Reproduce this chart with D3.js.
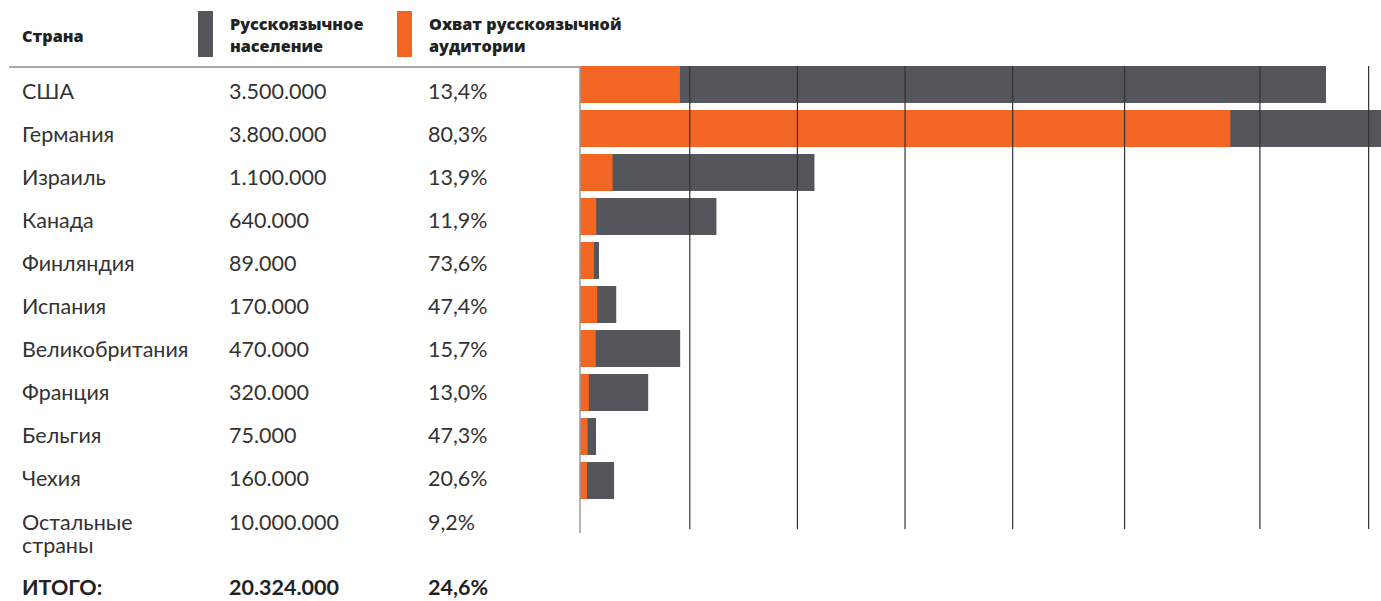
<!DOCTYPE html>
<html>
<head>
<meta charset="utf-8">
<script src="https://cdn.jsdelivr.net/npm/d3@7"></script>
<style>
  body { margin: 0; background: #fff; }
  .js-vis { width: 1381px; height: 601px; }
  text { font-family: Lato, "Noto Sans", sans-serif; }
  .header text { font-family: "Open Sans", Lato, sans-serif; }
</style>
</head>
<body>
<div class="js-vis"></div>
<script>
// Data
const countries = ["США", "Германия", "Израиль", "Канада", "Финляндия", "Испания",
  "Великобритания", "Франция", "Бельгия", "Чехия", "Остальные страны"]
const population = [3500000, 3800000, 1100000, 640000, 89000, 170000,
  470000, 320000, 75000, 160000, 10000000]
const reach = [13.4, 80.3, 13.9, 11.9, 73.6, 47.4, 15.7, 13.0, 47.3, 20.6, 9.2]
const totalLabel = "ИТОГО:"
const totalPopulation = 20324000
const totalReach = 24.6
// vertical grid lines, in people
const gridValues = [515000, 1020000, 1525000, 2030000, 2555000, 3190000, 3700000]
const headers = [["Страна"], ["Русскоязычное", "население"], ["Охват русскоязычной", "аудитории"]]

const grey = "#55565b", orange = "#f26522"

const ru = d3.formatLocale({ decimal: ",", thousands: ".", grouping: [3], currency: ["", ""] }),
    fmtPop = ru.format(",d"),
    fmtPct = d => ru.format(".1f")(d) + "%"

const el = d3.select(".js-vis"),
    width = parseFloat(el.style("width")),
    height = parseFloat(el.style("height"))

const svg = el.append("svg")
  .attr("width", width)
  .attr("height", height)

// bars only for the named countries (not "Остальные страны")
const rows = countries.slice(0, 10).map((c, i) => ({ c, pop: population[i], pct: reach[i] }))

const x = d3.scaleLinear()
  .domain([0, 3500000])
  .range([580, 1326])

const y = d3.scaleBand()
  .domain(rows.map(d => d.c))
  .range([66, 499])
  .paddingInner(0.16)

// text row baselines
const ty = d3.scaleLinear().domain([0, 1]).range([98.5, 141.6])

const colX = [22, 229, 428]

// header
const head = svg.append("g").attr("class", "header")
  .attr("font-size", 16.2).attr("font-weight", 800).attr("fill", "#222")
head.append("text")
  .attr("x", colX[0]).attr("y", 42)
  .text(headers[0][0])

const swatches = [grey, orange]
headers.slice(1).forEach((lines, i) => {
  head.append("rect")
    .attr("x", colX[i + 1] - 31).attr("y", 11)
    .attr("width", 15).attr("height", 46)
    .attr("fill", swatches[i])
  head.selectAll(null)
    .data(lines)
  .enter().append("text")
    .attr("x", colX[i + 1] + 1)
    .attr("y", (d, j) => 29.5 + j * 22)
    .text(d => d)
})

svg.append("line")
  .attr("x1", 9).attr("x2", x(0))
  .attr("y1", 67).attr("y2", 67)
  .attr("stroke", "#8e8e8e").attr("stroke-width", 1.5)

// table text
const table = svg.append("g").attr("class", "table")
  .attr("font-size", 21.5).attr("fill", "#333")

countries.forEach((c, i) => {
  const words = c === "Остальные страны" ? c.split(" ") : [c]
  table.append("text")
    .attr("x", colX[0]).attr("y", ty(i))
    .selectAll("tspan")
    .data(words)
  .enter().append("tspan")
    .attr("x", colX[0])
    .attr("dy", (d, j) => j ? 23.5 : 0)
    .text(d => d)
  table.append("text").attr("x", colX[1]).attr("y", ty(i)).text(fmtPop(population[i]))
  table.append("text").attr("x", colX[2]).attr("y", ty(i)).text(fmtPct(reach[i]))
})

const tot = svg.append("g").attr("font-size", 21.5).attr("font-weight", 700).attr("fill", "#222")
tot.append("text").attr("x", colX[0]).attr("y", ty(11.52)).text(totalLabel)
tot.append("text").attr("x", colX[1]).attr("y", ty(11.52)).text(fmtPop(totalPopulation))
tot.append("text").attr("x", colX[2]).attr("y", ty(11.52)).text(fmtPct(totalReach))

// bars
const bars = svg.append("g").attr("class", "bars")

bars.selectAll(".total")
  .data(rows)
.enter().append("rect")
  .attr("x", x(0))
  .attr("y", d => y(d.c))
  .attr("width", d => x(d.pop) - x(0))
  .attr("height", y.bandwidth())
  .attr("fill", grey)

bars.selectAll(".reach")
  .data(rows)
.enter().append("rect")
  .attr("x", x(0))
  .attr("y", d => y(d.c))
  .attr("width", d => x(d.pop * d.pct / 100) - x(0))
  .attr("height", y.bandwidth())
  .attr("fill", orange)

// grid lines over the bars
svg.append("g").selectAll("line")
  .data(gridValues)
.enter().append("line")
  .attr("x1", d => x(d)).attr("x2", d => x(d))
  .attr("y1", 66).attr("y2", 529)
  .attr("stroke", "#333").attr("stroke-width", 1.2)

svg.append("line")
  .attr("x1", x(0)).attr("x2", x(0))
  .attr("y1", 66).attr("y2", 533)
  .attr("stroke", "#9a9a9a").attr("stroke-width", 1.5)
</script>
</body>
</html>
